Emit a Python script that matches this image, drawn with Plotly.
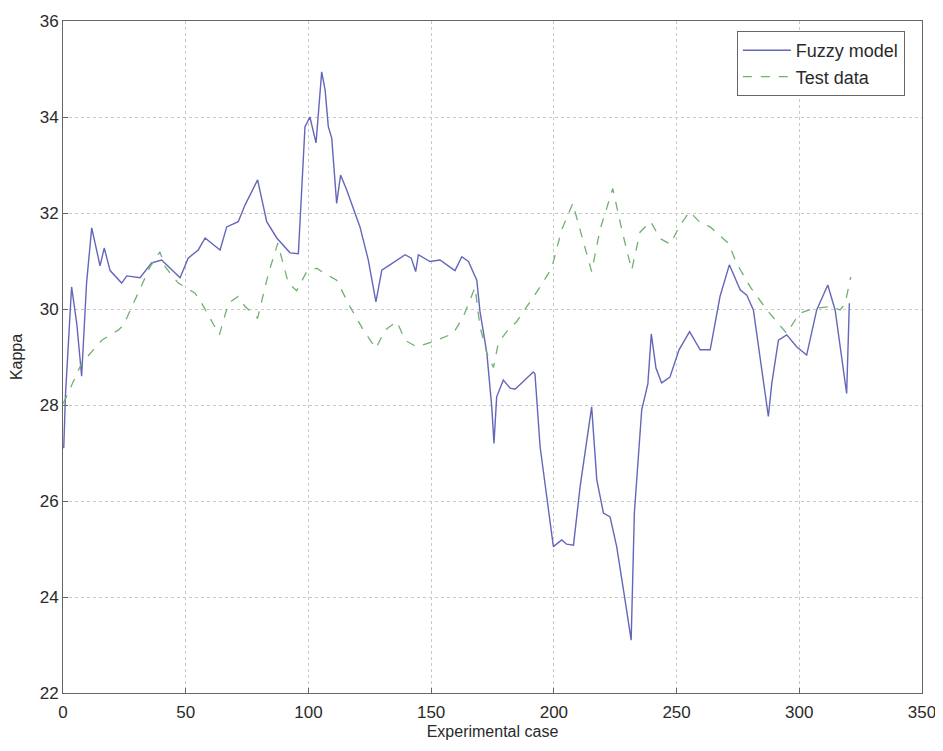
import plotly.graph_objects as go

# Fuzzy model (solid blue)
fuzzy_x = [0.3, 1.0, 3.5, 5.6, 7.6, 9.6, 11.7, 15.1, 16.8, 19.2, 23.9, 26.0, 31.4, 36.1, 40.2,
           47.7, 51.0, 55.1, 57.9, 64.0, 66.7, 71.4, 74.2, 79.3, 83.0, 87.1, 92.5, 95.9,
           98.6, 100.6, 103.1, 105.4, 106.8, 108.1, 109.5, 111.5, 113.1, 115.6, 121.0, 124.4,
           127.5, 129.9, 133.2, 139.4, 141.9, 143.7, 144.8, 149.5, 153.6, 159.7, 162.5, 165.2,
           168.6, 169.9, 172.7, 174.7, 175.6, 176.7, 179.4, 182.2, 184.2, 191.6, 192.3, 194.4,
           199.8, 203.2, 205.2, 208.0, 210.7, 215.4, 217.5, 220.2, 222.9, 225.6, 229.0, 231.5,
           232.8, 235.8, 238.3, 239.7, 241.6, 243.9, 247.3, 251.0, 255.3, 259.6, 263.7, 267.7,
           271.5, 275.9, 278.6, 281.3, 287.4, 288.8, 291.5, 294.9, 299.0, 303.0, 307.1, 311.6,
           314.6, 319.3, 320.4]
fuzzy_y = [27.1, 28.2, 30.46, 29.7, 28.6, 30.54, 31.69, 30.9, 31.27, 30.8, 30.54, 30.69, 30.65,
           30.96, 31.02, 30.65, 31.06, 31.23, 31.48, 31.23, 31.71, 31.82, 32.17, 32.69, 31.82,
           31.48, 31.17, 31.15, 33.8, 34.0, 33.46, 34.94, 34.56, 33.8, 33.56, 32.2, 32.79, 32.48,
           31.71, 31.02, 30.15, 30.81, 30.92, 31.13, 31.06, 30.78, 31.13, 30.99, 31.02, 30.8,
           31.09, 30.99, 30.6, 29.95, 29.08, 27.96, 27.2, 28.17, 28.52, 28.35, 28.33, 28.69,
           28.65, 27.13, 25.05, 25.19, 25.1, 25.08, 26.3, 27.96, 26.44, 25.75, 25.67, 25.05,
           23.94, 23.1, 25.75, 27.9, 28.44, 29.48, 28.77, 28.46, 28.58, 29.15, 29.53, 29.15,
           29.15, 30.26, 30.92, 30.4, 30.29, 29.98, 27.76, 28.45, 29.35, 29.46, 29.21, 29.04,
           29.98, 30.5, 29.98, 28.24, 30.12]

# Test data (dashed green)
test_x = [0.1, 7.6, 15.8, 22.5, 24.6, 30.0, 35.5, 39.5, 41.6, 47.0, 53.8, 56.5, 63.7, 67.4,
          71.4, 74.2, 79.3, 83.7, 87.5, 91.8, 95.2, 99.3, 103.4, 105.4, 111.5, 116.9, 122.4,
          127.5, 131.2, 136.0, 139.4, 144.1, 150.9, 159.0, 163.1, 167.9, 169.9, 172.7, 175.4,
          177.4, 180.8, 184.9, 194.4, 199.1, 203.2, 207.7, 211.4, 215.4, 218.8, 224.0, 227.7,
          231.7, 235.1, 239.5, 243.2, 247.5, 251.0, 255.3, 259.6, 263.7, 271.1, 274.5, 280.0,
          286.8, 294.9, 300.0, 305.7, 312.5, 316.6, 318.6, 321.0]
test_y = [28.03, 28.87, 29.35, 29.56, 29.66, 30.26, 30.88, 31.19, 30.88, 30.54, 30.33, 30.12,
          29.46, 30.12, 30.26, 30.05, 29.81, 30.74, 31.37, 30.54, 30.38, 30.78, 30.85, 30.78,
          30.6, 30.05, 29.56, 29.18, 29.56, 29.74, 29.35, 29.21, 29.32, 29.49, 29.84, 30.45,
          29.63, 29.08, 28.78, 29.3, 29.53, 29.74, 30.46, 30.85, 31.65, 32.2, 31.51, 30.78,
          31.65, 32.51, 31.65, 30.81, 31.6, 31.82, 31.47, 31.35, 31.71, 32.03, 31.8, 31.71,
          31.37, 30.95, 30.46, 29.98, 29.49, 29.91, 30.01, 30.05, 29.98, 30.1, 30.67]

x_ticks = [0, 50, 100, 150, 200, 250, 300, 350]
y_ticks = [22, 24, 26, 28, 30, 32, 34, 36]

FONT = "Liberation Sans, Arial, sans-serif"

fig = go.Figure()
fig.add_trace(go.Scatter(x=fuzzy_x, y=fuzzy_y, mode="lines", name="Fuzzy model",
                         line=dict(color="#6466ba", width=1.4)))
fig.add_trace(go.Scatter(x=test_x, y=test_y, mode="lines", name="Test data",
                         line=dict(color="#72b072", width=1.3, dash="dash")))

axis_common = dict(showline=True, linecolor="#666", linewidth=1, mirror=True,
                   ticks="inside", ticklen=5, tickcolor="#666",
                   showgrid=True, gridcolor="#c8c8c8", griddash="dot", gridwidth=1,
                   zeroline=False, tickfont=dict(family=FONT, size=17, color="#2a2a2a"))

fig.update_xaxes(range=[0, 350], tickvals=x_ticks, ticktext=[str(v) for v in x_ticks],
                 ticklabelstandoff=4,
                 title=dict(text="Experimental case", standoff=4,
                            font=dict(family=FONT, size=16, color="#2a2a2a")),
                 **axis_common)
fig.update_yaxes(range=[22, 36], tickvals=y_ticks, ticktext=[str(v) for v in y_ticks],
                 title=dict(text="Kappa", standoff=14,
                            font=dict(family=FONT, size=16, color="#2a2a2a")),
                 **axis_common)

fig.update_layout(
    width=935, height=743,
    margin=dict(l=55, r=21, t=13, b=58, autoexpand=False),
    plot_bgcolor="white", paper_bgcolor="white",
    showlegend=True,
    legend=dict(x=0.980, y=0.985, xanchor="right", yanchor="top",
                bgcolor="white", bordercolor="#666", borderwidth=1,
                font=dict(family=FONT, size=18, color="#2a2a2a"),
                tracegroupgap=0, itemwidth=48),
)

fig.write_html("out.html")
